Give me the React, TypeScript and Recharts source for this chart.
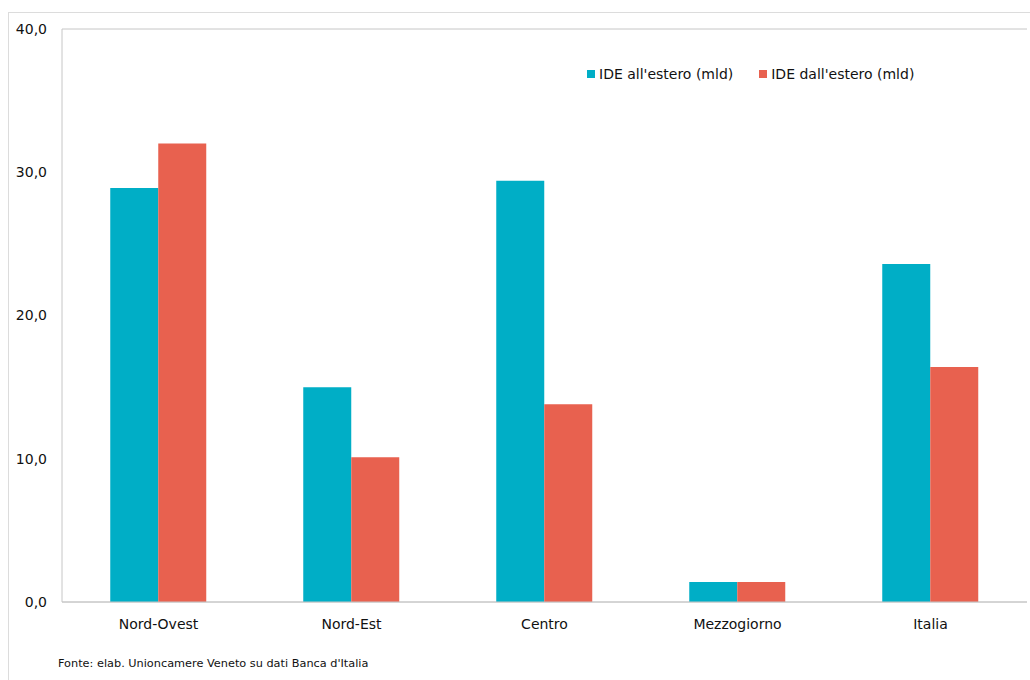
import React from "react";
import { BarChart, Bar, XAxis, YAxis, CartesianGrid } from "recharts";

const categories = ["Nord-Ovest", "Nord-Est", "Centro", "Mezzogiorno", "Italia"];
const ideAllEstero = [28.9, 15.0, 29.4, 1.4, 23.6];
const ideDallEstero = [32.0, 10.1, 13.8, 1.4, 16.4];
const yTicks = [0, 10, 20, 30, 40];
const seriesNames = ["IDE all'estero (mld)", "IDE dall'estero (mld)"];
const colors = ["#00AEC6", "#E8614F"];
const sourceNote = "Fonte: elab. Unioncamere Veneto su dati Banca d'Italia";

const data = categories.map((c, i) => ({
  name: c,
  a: ideAllEstero[i],
  b: ideDallEstero[i],
}));

const FONT = "'DejaVu Sans', Verdana, sans-serif";

export default function App() {
  return (
    <div style={{ position: "absolute", left: 0, top: 0, width: 1030, height: 680, background: "#fff", overflow: "hidden" }}>
      <div style={{ position: "absolute", left: 8, top: 12, width: 1100, height: 800, border: "1px solid #dcdcdc" }} />
      <BarChart
        width={1030}
        height={680}
        data={data}
        margin={{ top: 29, right: 3, bottom: 48, left: 0 }}
        barCategoryGap="25%"
        barGap={0}
        style={{ position: "absolute", left: 0, top: 0 }}
      >
        <CartesianGrid vertical={false} stroke="#c6c6c6" />
        <XAxis
          dataKey="name"
          height={30}
          axisLine={{ stroke: "#c6c6c6" }}
          tickLine={false}
          tickMargin={11}
          tick={{ fill: "#111", fontSize: 14, fontFamily: FONT }}
        />
        <YAxis
          yAxisId="left"
          width={62}
          domain={[0, 40]}
          ticks={yTicks}
          axisLine={{ stroke: "#c6c6c6" }}
          tickLine={false}
          tickMargin={9}
          tickFormatter={(v: number) => v.toFixed(1).replace(".", ",")}
          tick={{ fill: "#111", fontSize: 14, fontFamily: FONT }}
        />
        <YAxis
          yAxisId="right"
          orientation="right"
          width={0}
          domain={[0, 40]}
          ticks={yTicks}
          axisLine={{ stroke: "#c6c6c6" }}
          tickLine={false}
          tick={false}
        />
        <Bar yAxisId="left" dataKey="a" name={seriesNames[0]} fill={colors[0]} isAnimationActive={false} />
        <Bar yAxisId="left" dataKey="b" name={seriesNames[1]} fill={colors[1]} isAnimationActive={false} />
      </BarChart>
      <div style={{ position: "absolute", left: 587, top: 65, display: "flex", fontFamily: FONT, fontSize: 14, color: "#111", lineHeight: "18px" }}>
        {seriesNames.map((n, i) => (
          <div key={n} style={{ display: "flex", alignItems: "center", marginRight: i === 0 ? 26 : 0 }}>
            <span style={{ display: "inline-block", width: 8, height: 8, background: colors[i], marginRight: 4 }} />
            <span>{n}</span>
          </div>
        ))}
      </div>
      <div style={{ position: "absolute", left: 58, top: 657, fontFamily: FONT, fontSize: 11.3, color: "#111" }}>
        {sourceNote}
      </div>
    </div>
  );
}
